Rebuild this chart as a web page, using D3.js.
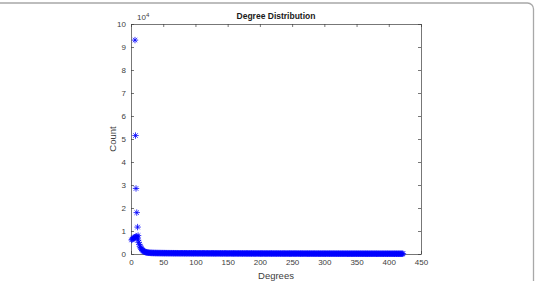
<!DOCTYPE html>
<html>
<head>
<meta charset="utf-8">
<script src="https://d3js.org/d3.v7.min.js"></script>
<style>
  body { margin: 0; background: #fff; }
  text { font-family: "Liberation Sans", Arial, sans-serif; }
</style>
</head>
<body>
<div id="chart"></div>
<script>
// counts for degree 1, 2, 3, ... (one value per degree)
var counts = [
  6100, 6400, 6600, 6900, 7100, 7300, 7400, 7600, 7500, 7000,
  6000, 5100, 4200, 3400, 2800, 2300, 1900, 1600, 1350, 1150,
  1000, 880, 790, 720, 660, 610, 570, 540, 510, 490,
  472, 458, 461, 447, 439, 441, 428, 426, 419, 421, 410, 412, 404, 399, 403, 394, 391, 393, 386, 384,
  383, 377, 380, 374, 371, 373, 368, 369, 364, 366, 361, 363, 358, 360, 355, 357, 352, 354, 350, 351,
  348, 349, 345, 347, 343, 344, 340, 342, 338, 339, 336, 337, 334, 335, 332, 333, 330, 331, 328, 329,
  327, 325, 326, 323, 324, 321, 322, 320, 318, 319, 317, 315, 316, 314, 312, 313, 311, 309, 310, 308,
  307, 305, 306, 304, 302, 303, 301, 300, 299, 297, 298, 296, 295, 293, 294, 292, 291, 290, 288, 289,
  287, 286, 284, 285, 283, 282, 281, 279, 280, 278, 277, 276, 275, 273, 274, 272, 271, 270, 269, 268,
  267, 266, 264, 265, 263, 262, 261, 260, 258, 259, 257, 256, 255, 254, 253, 252, 250, 251, 249, 248,
  247, 246, 245, 244, 243, 242, 241, 240, 239, 238, 237, 236, 235, 234, 233, 232, 231, 230, 229, 228,
  227, 226, 226, 225, 224, 223, 222, 221, 220, 219, 218, 218, 217, 216, 215, 214, 213, 212, 212, 211,
  210, 209, 208, 207, 207, 206, 205, 204, 203, 203, 202, 201, 200, 199, 199, 198, 197, 196, 196, 195,
  194, 193, 193, 192, 191, 190, 190, 189, 188, 187, 187, 186, 185, 185, 184, 183, 182, 182, 181, 180,
  180, 179, 178, 178, 177, 176, 176, 175, 174, 174, 173, 172, 172, 171, 170, 170, 169, 168, 168, 167,
  166, 166, 165, 165, 164, 163, 163, 162, 161, 161, 160, 160, 159, 158, 158, 157, 157, 156, 155, 155,
  154, 154, 153, 153, 152, 151, 151, 150, 150, 149, 149, 148, 147, 147, 146, 146, 145, 145, 144, 144,
  143, 143, 142, 142, 141, 140, 140, 139, 139, 138, 138, 137, 137, 136, 136, 135, 135, 134, 134, 133,
  133, 132, 132, 131, 131, 130, 130, 129, 129, 128, 128, 128, 127, 127, 126, 126, 125, 125, 124, 124,
  123, 123, 122, 122, 122, 121, 121, 120, 120, 119, 119, 118, 118, 118, 117, 117, 116, 116, 115, 115,
  115, 114, 114, 113, 113, 113, 112, 112, 111, 111, 111, 110, 110, 109, 109, 109, 108, 108, 107, 107,
  107, 106, 106, 105, 105, 104, 104, 104, 103, 103, 102, 102, 102, 101, 101, 100, 100, 100, 99, 99,
  99, 98, 98, 97, 97, 97, 96, 96, 96, 95, 95, 95
];

// the separate high points near degree 6-11
var peakDeg = [6.2, 7, 7.8, 8.9, 10.2, 11];
var peakCount = [93000, 51500, 28500, 18000, 11700, 8000];

var xTicks = [0, 50, 100, 150, 200, 250, 300, 350, 400, 450];
var yTicks = [0, 10000, 20000, 30000, 40000, 50000, 60000, 70000, 80000, 90000, 100000];

var W = 536, H = 281;
var pLeft = 131, pRight = 421, pTop = 24, pBottom = 254;

var svg = d3.select("#chart").append("svg")
  .attr("width", W).attr("height", H);

// outer frame (rounded, only top and right visible)
svg.append("rect")
  .attr("x", -20).attr("y", 3)
  .attr("width", 553.5).attr("height", 320)
  .attr("rx", 6)
  .attr("fill", "none")
  .attr("stroke", "#a8a8a8")
  .attr("stroke-width", 1.3);

var x = d3.scaleLinear().domain([0, 450]).range([pLeft, pRight]);
var y = d3.scaleLinear().domain([0, 100000]).range([pBottom, pTop]);

var axisColor = "#3c3c3c";
var textColor = "#404040";

function styleAxis(g) {
  g.select(".domain").attr("stroke", axisColor).attr("stroke-width", 0.7);
  g.selectAll(".tick line").attr("stroke", axisColor).attr("stroke-width", 0.7);
  g.selectAll(".tick text").attr("fill", textColor).style("font-size", "8px")
    .style("font-family", "'Liberation Sans', Arial, sans-serif");
}

svg.append("g")
  .attr("transform", "translate(0," + pBottom + ")")
  .call(d3.axisBottom(x).tickValues(xTicks).tickSizeInner(-3).tickSizeOuter(0).tickPadding(5))
  .call(styleAxis);

svg.append("g")
  .attr("transform", "translate(0," + pTop + ")")
  .call(d3.axisTop(x).tickValues(xTicks).tickSizeInner(-3).tickSizeOuter(0).tickFormat(""))
  .call(styleAxis);

svg.append("g")
  .attr("transform", "translate(" + pLeft + ",0)")
  .call(d3.axisLeft(y).tickValues(yTicks).tickSizeInner(-3).tickSizeOuter(0).tickPadding(5)
    .tickFormat(function(d) { return d / 10000; }))
  .call(styleAxis);

svg.append("g")
  .attr("transform", "translate(" + pRight + ",0)")
  .call(d3.axisRight(y).tickValues(yTicks).tickSizeInner(-3).tickSizeOuter(0).tickFormat(""))
  .call(styleAxis);

// asterisk markers
var s = 3.2;
var star = "M" + (-s) + ",0H" + s + "M0," + (-s) + "V" + s +
  "M" + (-s * 0.7) + "," + (-s * 0.7) + "L" + (s * 0.7) + "," + (s * 0.7) +
  "M" + (-s * 0.7) + "," + (s * 0.7) + "L" + (s * 0.7) + "," + (-s * 0.7);

var pts = counts.map(function(c, i) { return {d: i + 1, c: c}; })
  .concat(peakDeg.map(function(d, i) { return {d: d, c: peakCount[i]}; }));

svg.append("g").selectAll("path")
  .data(pts)
  .enter().append("path")
  .attr("d", star)
  .attr("transform", function(p) { return "translate(" + x(p.d) + "," + y(p.c) + ")"; })
  .attr("fill", "none")
  .attr("stroke", "#0000ff")
  .attr("stroke-width", 0.8);

// labels
svg.append("text")
  .attr("x", (pLeft + pRight) / 2).attr("y", 19)
  .attr("text-anchor", "middle")
  .style("font-size", "8.5px").style("font-weight", "bold")
  .attr("fill", "#1a1a1a")
  .text("Degree Distribution");

svg.append("text")
  .attr("x", (pLeft + pRight) / 2).attr("y", 279)
  .attr("text-anchor", "middle")
  .style("font-size", "9.5px")
  .attr("fill", textColor)
  .text("Degrees");

svg.append("text")
  .attr("transform", "translate(116," + ((pTop + pBottom) / 2) + ") rotate(-90)")
  .attr("text-anchor", "middle")
  .style("font-size", "9.5px")
  .attr("fill", textColor)
  .text("Count");

var exp = svg.append("text")
  .attr("x", 137).attr("y", 20)
  .style("font-size", "8px")
  .attr("fill", textColor);
exp.append("tspan").text("10");
exp.append("tspan").attr("dy", -3).style("font-size", "6px").text("4");
</script>
</body>
</html>
